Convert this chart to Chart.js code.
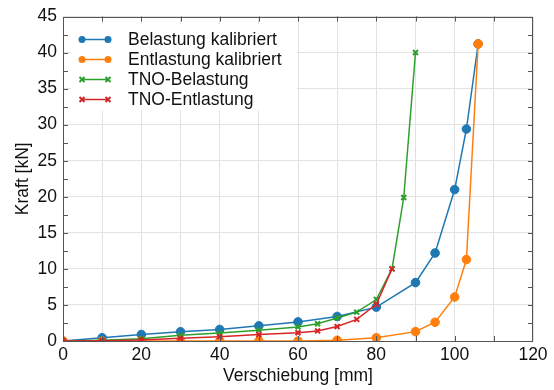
<!DOCTYPE html>
<html>
<head>
<meta charset="utf-8">
<script src="https://cdn.jsdelivr.net/npm/chart.js@4"></script>
<style>
  html, body { margin: 0; padding: 0; background: #fff; }
  #wrap { width: 554px; height: 390px; }
</style>
</head>
<body>
<div id="wrap"><canvas id="kraftChart" width="554" height="390"></canvas></div>
<script>
// values
const belastungX = [0, 10, 20, 30, 40, 50, 60, 70, 80, 90, 95, 100, 103, 106];
const belastungY = [0, 0.45, 0.9, 1.28, 1.6, 2.1, 2.65, 3.4, 4.7, 8.1, 12.2, 21.0, 29.4, 41.2];
const entlastungX = [0, 10, 20, 30, 40, 50, 60, 70, 80, 90, 95, 100, 103, 106];
const entlastungY = [0, 0, 0, 0, 0, 0, 0, 0.1, 0.45, 1.3, 2.6, 6.1, 11.3, 41.2];
const tnoBelastungX = [0, 10, 20, 30, 40, 50, 60, 65, 70, 75, 80, 84, 87, 90];
const tnoBelastungY = [0, 0.1, 0.3, 0.8, 1.1, 1.5, 1.95, 2.4, 3.2, 4.0, 5.75, 10, 19.9, 40];
const tnoEntlastungX = [0, 10, 20, 30, 40, 50, 60, 65, 70, 75, 80, 84];
const tnoEntlastungY = [0, 0.05, 0.15, 0.37, 0.6, 0.9, 1.15, 1.4, 2.0, 3.0, 5.1, 10];

const seriesNames = ['Belastung kalibriert', 'Entlastung kalibriert', 'TNO-Belastung', 'TNO-Entlastung'];
const seriesColors = ['#1f77b4', '#ff7f0e', '#2ca02c', '#d62728'];

const FONT = '"Liberation Sans", Arial, sans-serif';

function pts(xs, ys) {
    return xs.map(function (x, i) { return { x: x, y: ys[i] }; });
}

function makeSet(i, xs, ys, style) {
    return {
        label: seriesNames[i],
        data: pts(xs, ys),
        borderColor: seriesColors[i],
        backgroundColor: seriesColors[i],
        borderWidth: 1.5,
        pointStyle: style,
        pointRadius: style === 'circle' ? 4.3 : 3.5,
        pointBorderWidth: style === 'circle' ? 1 : 2,
        tension: 0,
        order: 4 - i
    };
}

// ticks pointing inwards on all four sides
const innerTicks = {
    id: 'innerTicks',
    afterDatasetsDraw(chart) {
        const { ctx, chartArea: a, scales } = chart;
        ctx.save();
        ctx.strokeStyle = '#555';
        ctx.lineWidth = 1;
        ctx.beginPath();
        for (let v = 10; v < 120; v += 10) {
            const px = Math.round(scales.x.getPixelForValue(v)) + 0.5;
            ctx.moveTo(px, a.bottom); ctx.lineTo(px, a.bottom - 5);
            ctx.moveTo(px, a.top); ctx.lineTo(px, a.top + 5);
        }
        for (let v = 2.5; v < 45; v += 2.5) {
            const py = Math.round(scales.y.getPixelForValue(v)) + 0.5;
            ctx.moveTo(a.left, py); ctx.lineTo(a.left + 5, py);
            ctx.moveTo(a.right, py); ctx.lineTo(a.right - 5, py);
        }
        ctx.stroke();
        ctx.strokeRect(Math.round(a.left) + 0.5, Math.round(a.top) + 0.5,
            Math.round(a.right - a.left) - 1, Math.round(a.bottom - a.top) - 1);
        ctx.restore();
    }
};

// legend box in the upper left corner of the plot
const boxLegend = {
    id: 'boxLegend',
    afterDraw(chart) {
        const ctx = chart.ctx;
        const a = chart.chartArea;
        const x0 = a.left + 8, y0 = a.top + 8;
        ctx.save();
        ctx.fillStyle = '#fff';
        ctx.fillRect(x0, y0, 226, 86);
        ctx.font = '17.5px ' + FONT;
        ctx.textBaseline = 'middle';
        chart.data.datasets.forEach(function (ds, i) {
            const y = a.top + 23 + i * 20;
            const xa = a.left + 19, xb = a.left + 45;
            ctx.strokeStyle = ds.borderColor;
            ctx.fillStyle = ds.borderColor;
            ctx.lineWidth = 1.5;
            ctx.beginPath();
            ctx.moveTo(xa, y); ctx.lineTo(xb, y);
            ctx.stroke();
            [xa, xb].forEach(function (px) {
                if (ds.pointStyle === 'circle') {
                    ctx.beginPath();
                    ctx.arc(px, y, 3.5, 0, Math.PI * 2);
                    ctx.fill();
                } else {
                    ctx.lineWidth = 2;
                    ctx.beginPath();
                    ctx.moveTo(px - 2.5, y - 2.5); ctx.lineTo(px + 2.5, y + 2.5);
                    ctx.moveTo(px - 2.5, y + 2.5); ctx.lineTo(px + 2.5, y - 2.5);
                    ctx.stroke();
                }
            });
            ctx.fillStyle = '#111';
            ctx.fillText(ds.label, a.left + 65, y + 1);
        });
        ctx.restore();
    }
};

const ctx = document.getElementById('kraftChart').getContext('2d');
new Chart(ctx, {
    type: 'line',
    data: {
        datasets: [
            makeSet(0, belastungX, belastungY, 'circle'),
            makeSet(1, entlastungX, entlastungY, 'circle'),
            makeSet(2, tnoBelastungX, tnoBelastungY, 'crossRot'),
            makeSet(3, tnoEntlastungX, tnoEntlastungY, 'crossRot')
        ]
    },
    options: {
        responsive: false,
        animation: false,
        layout: { padding: { top: 15, right: 21, left: 0, bottom: 0 } },
        plugins: {
            legend: { display: false },
            tooltip: { enabled: false }
        },
        scales: {
            x: {
                type: 'linear',
                min: 0,
                max: 120,
                afterFit: function (s) { s.height = 49; },
                border: { display: false },
                grid: { color: '#e2e2e2', drawTicks: false },
                ticks: {
                    stepSize: 10,
                    padding: 4,
                    maxRotation: 0,
                    color: '#111',
                    font: { family: FONT, size: 17.5 },
                    callback: function (v) { return v % 20 === 0 ? v : ''; }
                },
                title: {
                    display: true,
                    text: 'Verschiebung [mm]',
                    color: '#111',
                    font: { family: FONT, size: 17.5 },
                    padding: { top: 0, bottom: 3 }
                }
            },
            y: {
                min: 0,
                max: 45,
                afterFit: function (s) { s.width = 63; },
                border: { display: false },
                grid: { color: '#e2e2e2', drawTicks: false },
                ticks: {
                    stepSize: 2.5,
                    padding: 6,
                    color: '#111',
                    font: { family: FONT, size: 17.5 },
                    callback: function (v) { return v % 5 === 0 ? v : ''; }
                },
                title: {
                    display: true,
                    text: 'Kraft [kN]',
                    color: '#111',
                    font: { family: FONT, size: 17.5 },
                    padding: { top: 13, bottom: 0 }
                }
            }
        }
    },
    plugins: [innerTicks, boxLegend]
});
</script>
</body>
</html>
